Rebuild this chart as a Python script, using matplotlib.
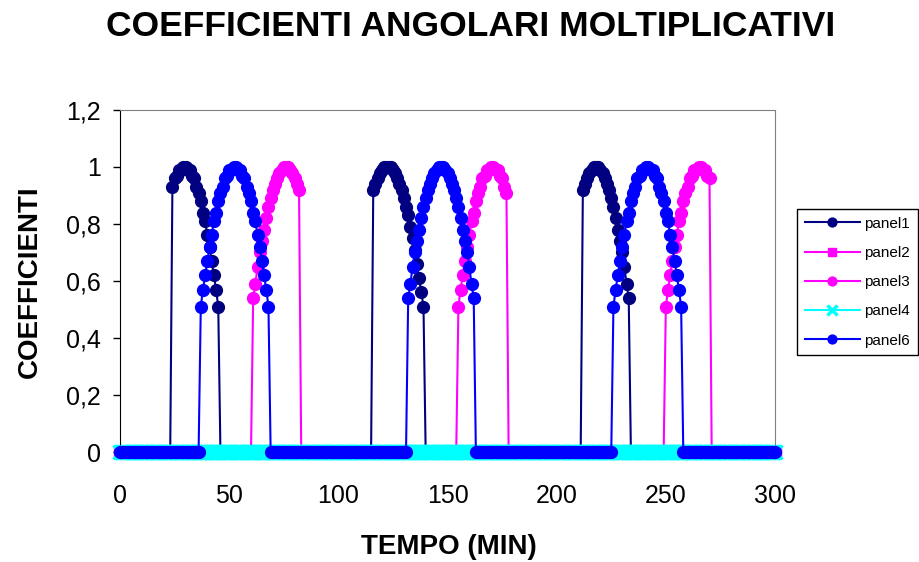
import numpy as np
import matplotlib
matplotlib.use('Agg')
import matplotlib.pyplot as plt

plt.rcParams['font.family'] = ['Liberation Sans', 'DejaVu Sans']

# tempo in minuti, passo 1 min
tempo = np.arange(0, 301, 1)

# archi: minuto di inizio e valori successivi
panel1_starts = [24, 116, 212]
panel1_arcs = [
    [0.93, 0.96, 0.97, 0.99, 0.99, 1.00, 1.00, 0.99, 0.99, 0.97, 0.96, 0.93, 0.91, 0.88, 0.84, 0.81,
     0.76, 0.72, 0.67, 0.62, 0.57, 0.51],
    [0.92, 0.94, 0.96, 0.98, 0.99, 1.00, 1.00, 1.00, 1.00, 0.99, 0.98, 0.96, 0.94, 0.92, 0.89, 0.86,
     0.83, 0.79, 0.75, 0.71, 0.66, 0.61, 0.56, 0.51],
    [0.92, 0.94, 0.96, 0.98, 0.99, 1.00, 1.00, 1.00, 0.99, 0.98, 0.96, 0.94, 0.92, 0.89, 0.86, 0.82,
     0.78, 0.74, 0.70, 0.65, 0.59, 0.54],
]

panel3_starts = [61, 155, 250]
panel3_arcs = [
    [0.54, 0.59, 0.65, 0.70, 0.74, 0.78, 0.82, 0.86, 0.89, 0.92, 0.94, 0.96, 0.98, 0.99, 1.00, 1.00,
     1.00, 0.99, 0.98, 0.96, 0.94, 0.92],
    [0.51, 0.57, 0.62, 0.67, 0.72, 0.76, 0.81, 0.84, 0.88, 0.91, 0.93, 0.96, 0.97, 0.99, 0.99, 1.00,
     1.00, 0.99, 0.99, 0.97, 0.96, 0.93, 0.91],
    [0.51, 0.57, 0.62, 0.67, 0.72, 0.76, 0.81, 0.84, 0.88, 0.91, 0.93, 0.96, 0.97, 0.99, 0.99, 1.00,
     1.00, 0.99, 0.99, 0.97, 0.96],
]

panel6_starts = [37, 132, 226]
panel6_arcs = [
    [0.51, 0.57, 0.62, 0.67, 0.72, 0.76, 0.81, 0.84, 0.88, 0.91, 0.93, 0.96, 0.97, 0.99, 0.99, 1.00,
     1.00, 0.99, 0.99, 0.97, 0.96, 0.93, 0.91, 0.88, 0.84, 0.81, 0.76, 0.72, 0.67, 0.62, 0.57, 0.51],
    [0.54, 0.59, 0.65, 0.70, 0.74, 0.78, 0.82, 0.86, 0.89, 0.92, 0.94, 0.96, 0.98, 0.99, 1.00, 1.00,
     1.00, 0.99, 0.98, 0.96, 0.94, 0.92, 0.89, 0.86, 0.82, 0.78, 0.74, 0.70, 0.65, 0.59, 0.54],
    [0.51, 0.57, 0.62, 0.67, 0.72, 0.76, 0.81, 0.84, 0.88, 0.91, 0.93, 0.96, 0.97, 0.99, 0.99, 1.00,
     1.00, 0.99, 0.99, 0.97, 0.96, 0.93, 0.91, 0.88, 0.84, 0.81, 0.76, 0.72, 0.67, 0.62, 0.57, 0.51],
]

y_ticks = [0, 0.2, 0.4, 0.6, 0.8, 1.0, 1.2]
y_tick_labels = ['0', '0,2', '0,4', '0,6', '0,8', '1', '1,2']
x_ticks = [0, 50, 100, 150, 200, 250, 300]


def build(starts, arcs):
    y = np.zeros(len(tempo))
    for t0, arc in zip(starts, arcs):
        y[t0:t0 + len(arc)] = arc
    return y


panel1 = build(panel1_starts, panel1_arcs)
panel2 = np.zeros(len(tempo))
panel3 = build(panel3_starts, panel3_arcs)
panel4 = np.zeros(len(tempo))
panel6 = build(panel6_starts, panel6_arcs)

fig = plt.figure(figsize=(9.2, 5.62), dpi=100)
ax = fig.add_axes([120 / 920, 1 - 452 / 562, 655 / 920, 342 / 562])

series = [
    ('panel1', panel1, '#000080', 'o', 8.5, 1.0),
    ('panel2', panel2, '#FF00FF', 's', 8.0, 1.0),
    ('panel3', panel3, '#FF00FF', 'o', 8.5, 1.0),
    ('panel4', panel4, '#00FFFF', 'x', 10.0, 2.5),
    ('panel6', panel6, '#0000FF', 'o', 8.5, 1.0),
]
handles = []
for i, (name, vals, col, mk, ms, mew) in enumerate(series):
    ln, = ax.plot(tempo, vals, color=col, lw=1.5, marker=mk, ms=ms, mfc=col, mec=col,
                  mew=mew, label=name, clip_on=False, zorder=3 + i)
    handles.append(ln)

ax.set_xlim(0, 300)
ax.set_ylim(0, 1.2)
ax.set_xticks(x_ticks)
ax.set_xticklabels([str(v) for v in x_ticks])
ax.set_yticks(y_ticks)
ax.set_yticklabels(y_tick_labels)
ax.tick_params(direction='out', length=5, width=1, labelsize=18, colors='black')
ax.tick_params(axis='y', pad=9)
ax.tick_params(axis='x', pad=18)
for s in ['top', 'right']:
    ax.spines[s].set_color('#808080')
for s in ['left', 'bottom']:
    ax.spines[s].set_color('black')

fig.text(471 / 920, 1 - 26 / 562, 'COEFFICIENTI ANGOLARI MOLTIPLICATIVI', ha='center', va='center',
         fontsize=25.5, fontweight='bold')
fig.text(449 / 920, 1 - 547 / 562, 'TEMPO (MIN)', ha='center', va='center', fontsize=20, fontweight='bold')
fig.text(30 / 920, 1 - 282 / 562, 'COEFFICIENTI', ha='center', va='center', rotation=90,
         fontsize=20, fontweight='bold')

leg = fig.legend(handles=handles, loc='upper left', bbox_to_anchor=(797 / 920, 1 - 209 / 562),
                 borderaxespad=0, fontsize=11, frameon=True, fancybox=False, edgecolor='black',
                 framealpha=1, handlelength=3.6, handletextpad=0.3, labelspacing=1.0,
                 borderpad=0.5, markerscale=0.75)
leg.get_frame().set_linewidth(1.0)

fig.savefig('out.png', dpi=100, facecolor='white')
